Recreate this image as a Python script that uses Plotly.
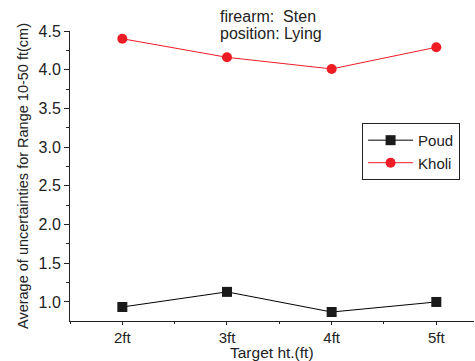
import plotly.graph_objects as go

categories = ["2ft", "3ft", "4ft", "5ft"]
poud = [0.935, 1.13, 0.87, 1.0]
kholi = [4.40, 4.16, 4.01, 4.29]

xpos = list(range(len(categories)))

fig = go.Figure()
fig.add_trace(go.Scatter(x=xpos, y=poud, mode="lines+markers", name="Poud",
                         line=dict(color="black", width=1),
                         marker=dict(symbol="square", size=10, color="#1a1a1a")))
fig.add_trace(go.Scatter(x=xpos, y=kholi, mode="lines+markers", name="Kholi",
                         line=dict(color="#ee1c25", width=1),
                         marker=dict(symbol="circle", size=10, color="#ee1c25")))

font = "Liberation Sans, Arial, sans-serif"
fig.update_layout(
    width=475, height=361,
    margin=dict(l=70, r=1, t=31, b=40),
    plot_bgcolor="white", paper_bgcolor="white",
    font=dict(family=font, color="#222", size=14),
    showlegend=True,
    legend=dict(x=0.723, y=0.683, xanchor="left", yanchor="top",
                bordercolor="#222", borderwidth=1, bgcolor="white",
                font=dict(size=15), tracegroupgap=0, itemwidth=45),
    xaxis=dict(range=[-0.5, 3.36], tickvals=xpos, ticktext=categories,
               showline=True, linecolor="#222", linewidth=1, showgrid=False, zeroline=False,
               ticks="outside", ticklen=3, tickcolor="#222", tickfont=dict(size=15),
               minor=dict(dtick=0.5, tick0=-0.5, ticks="outside", ticklen=2, tickcolor="#222", showgrid=False)),
    yaxis=dict(range=[0.754, 4.5], tick0=1.0, dtick=0.5, tickformat=".1f",
               showline=True, linecolor="#222", linewidth=1, showgrid=False, zeroline=False,
               ticks="outside", ticklen=5, tickcolor="#222", tickfont=dict(size=16),
               minor=dict(dtick=0.25, tick0=1.0, ticks="outside", ticklen=3, tickcolor="#222", showgrid=False),
               title=dict(text="Average of uncertainties for Range 10-50 ft(cm)", font=dict(size=14.5), standoff=6)),
)
fig.add_annotation(xref="paper", yref="paper", x=0.5, y=-41 / 290,
                   xanchor="center", yanchor="bottom", showarrow=False,
                   text="Target ht.(ft)", font=dict(size=15.5), borderpad=0)
fig.add_annotation(xref="paper", yref="paper", x=(218 - 70) / 404, y=1 + 15 / 290,
                   xanchor="left", yanchor="middle", showarrow=False, align="left",
                   text="firearm:  Sten", font=dict(size=16))
fig.add_annotation(xref="paper", yref="paper", x=(218 - 70) / 404, y=1 - (33 - 31) / 290,
                   xanchor="left", yanchor="middle", showarrow=False, align="left",
                   text="position: Lying", font=dict(size=16))

fig.write_html("out.html")
